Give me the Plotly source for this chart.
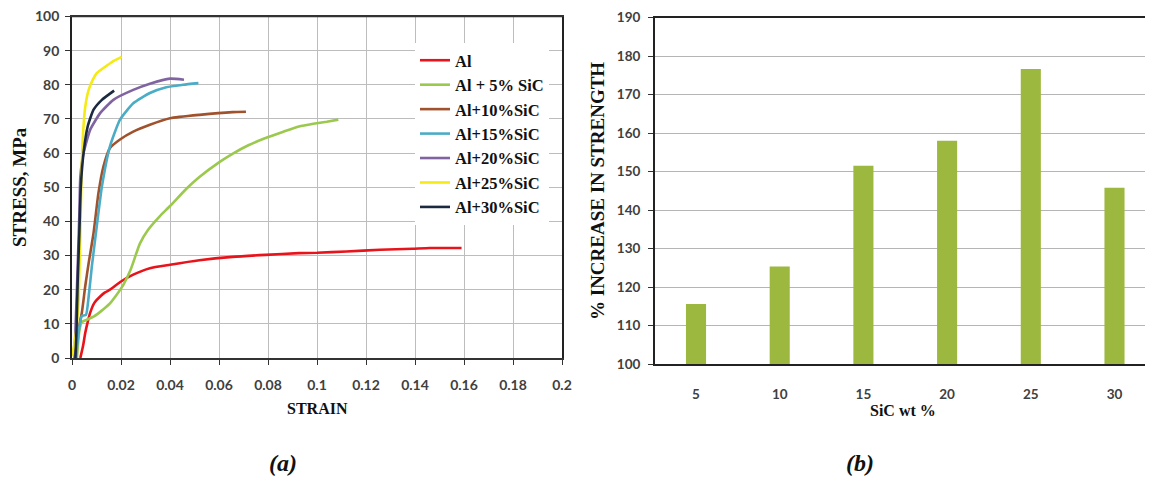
import plotly.graph_objects as go

# ---------------- data: panel (a) stress-strain curves ----------------
series_names = ["Al", "Al + 5% SiC", "Al+10%SiC", "Al+15%SiC", "Al+20%SiC", "Al+25%SiC", "Al+30%SiC"]
series_colors = ["#E8141C", "#9BC94E", "#A0522D", "#4BACC6", "#8064A2", "#F5EA14", "#1B2A41"]

strain_al = [0.0034, 0.0045, 0.0054, 0.0064, 0.0074, 0.009, 0.0115, 0.0135, 0.0155, 0.02, 0.025,
             0.0318, 0.04, 0.052, 0.0655, 0.079, 0.0926, 0.1, 0.112, 0.1257, 0.139, 0.146, 0.159]
stress_al = [0, 3.5, 7.3, 10.5, 13.2, 16, 18, 19.2, 20, 22.4, 24.4,
             26.3, 27.3, 28.6, 29.6, 30.2, 30.7, 30.8, 31.2, 31.7, 32.0, 32.2, 32.2]

strain_5 = [0.002, 0.003, 0.004, 0.006, 0.009, 0.012, 0.0155, 0.018, 0.021, 0.024, 0.0277, 0.031,
            0.0358, 0.04, 0.0466, 0.052, 0.06, 0.0655, 0.072, 0.079, 0.086, 0.0926, 0.0985, 0.104, 0.1087]
stress_5 = [0, 8, 10.5, 11.2, 12.2, 13.8, 16, 18.3, 21.5, 26, 33.5, 37.5,
            41.5, 44.5, 49.5, 53, 57.3, 59.8, 62.3, 64.4, 66.2, 67.8, 68.6, 69.2, 69.8]

strain_10 = [0.0015, 0.0025, 0.004, 0.0054, 0.0068, 0.0088, 0.0108, 0.0128, 0.0155, 0.0196,
             0.025, 0.0318, 0.04, 0.052, 0.0655, 0.071]
stress_10 = [0, 8, 13.2, 21, 27.8, 36.6, 48.3, 56, 61.5, 64,
             66.3, 68.3, 70.2, 71.2, 72, 72.1]

strain_15 = [0.0015, 0.003, 0.004, 0.0057, 0.0068, 0.0081, 0.0101, 0.0122, 0.0155, 0.0196,
             0.025, 0.0318, 0.0385, 0.0453, 0.0516]
stress_15 = [0, 9, 12.3, 12.6, 18, 26.8, 38.5, 50.2, 62, 69.8,
             74.6, 77.6, 79.3, 80, 80.5]

strain_20 = [0.001, 0.002, 0.003, 0.0034, 0.0047, 0.0074, 0.0115, 0.0169, 0.025, 0.0318, 0.04, 0.0457]
stress_20 = [0, 20, 42, 53, 60, 66.8, 71.7, 75.6, 78.5, 80.3, 81.8, 81.5]

strain_25 = [0.0, 0.0012, 0.002, 0.0027, 0.003, 0.0034, 0.0038, 0.0045, 0.0054, 0.0068,
             0.0085, 0.0101, 0.012, 0.0142, 0.017, 0.0203]
stress_25 = [0.5, 5, 10, 17, 25, 36, 51, 65.5, 73.5, 78.5,
             81.5, 83.4, 84.5, 85.6, 87, 88.2]

strain_30 = [0.0014, 0.0018, 0.0023, 0.003, 0.0036, 0.0047, 0.0064, 0.0088, 0.0122, 0.0172]
stress_30 = [0, 7.3, 22, 36.6, 50.2, 60, 67.8, 72.7, 75.6, 78.3]

strain_ticks = [0, 0.02, 0.04, 0.06, 0.08, 0.1, 0.12, 0.14, 0.16, 0.18, 0.2]
strain_tick_labels = ["0", "0.02", "0.04", "0.06", "0.08", "0.1", "0.12", "0.14", "0.16", "0.18", "0.2"]

# ---------------- data: panel (b) % increase in strength ----------------
sic_wt = [5, 10, 15, 20, 25, 30]
increase_pct = [115.6, 125.3, 151.5, 158.0, 176.6, 145.8]

strains = [strain_al, strain_5, strain_10, strain_15, strain_20, strain_25, strain_30]
stresses = [stress_al, stress_5, stress_10, stress_15, stress_20, stress_25, stress_30]

# page body has an 8px margin: the figure occupies page pixels 8..1153 x 8..482
OFF = 8
W, H = 1153 - OFF, 482 - OFF
SERIF = "Liberation Serif, Times New Roman, serif"
SANS = "Lato, Open Sans, sans-serif"
TICKCOL = "#404040"

fig = go.Figure()
for i, (name, col) in enumerate(zip(series_names, series_colors)):
    fig.add_trace(go.Scatter(
        x=strains[i], y=stresses[i], mode="lines", name=name,
        line=dict(color=col, width=2.6, shape="spline", smoothing=0.5),
        xaxis="x", yaxis="y"))

fig.add_trace(go.Bar(
    x=sic_wt, y=increase_pct, width=1.2, marker=dict(color="#9DB83F", line=dict(width=0)),
    showlegend=False, xaxis="x2", yaxis="y2"))

def px_x(p):
    return (p - OFF) / W

def px_y(p):
    return (H - (p - OFF)) / H

fig.update_layout(
    width=W, height=H, margin=dict(l=0, r=0, t=0, b=0, autoexpand=False),
    paper_bgcolor="white", plot_bgcolor="white",
    showlegend=True,
    legend=dict(x=px_x(415), y=px_y(43), xanchor="left", yanchor="top",
                bgcolor="white", borderwidth=0, traceorder="normal",
                font=dict(family=SERIF, size=16.5, color="#111111", weight="bold"),
                itemwidth=30),
    xaxis=dict(domain=[px_x(72), px_x(562)], range=[0, 0.2], anchor="y", automargin=False,
               tickvals=strain_ticks, ticktext=strain_tick_labels,
               showgrid=True, gridcolor="#BDBDBD", gridwidth=1,
               showline=True, linecolor="#333333", linewidth=1.6, mirror=True,
               ticks="outside", ticklen=5, tickcolor="#333333", ticklabelstandoff=8,
               tickfont=dict(family=SANS, size=14, color=TICKCOL, weight="bold"),
               ticklabeloverflow="allow", zeroline=False),
    yaxis=dict(domain=[px_y(358), px_y(16.5)], range=[0, 100], anchor="x", dtick=10, automargin=False,
               showgrid=True, gridcolor="#BDBDBD", gridwidth=1,
               showline=True, linecolor="#222222", linewidth=1.8, mirror=True,
               ticks="outside", ticklen=5, tickcolor="#333333", ticklabelstandoff=3,
               tickfont=dict(family=SANS, size=14, color=TICKCOL, weight="bold"),
               ticklabeloverflow="allow", zeroline=False),
    xaxis2=dict(domain=[px_x(655), 1.0], range=[2.55, 32.3], anchor="y2", automargin=False,
                tickvals=sic_wt, showgrid=False,
                showline=True, linecolor="#222222", linewidth=2, mirror=True,
                ticks="", ticklabelstandoff=17,
                tickfont=dict(family=SANS, size=13.5, color=TICKCOL, weight="bold"),
                ticklabeloverflow="allow", zeroline=False),
    yaxis2=dict(domain=[px_y(364), px_y(17.5)], range=[100, 190], anchor="x2", dtick=10, automargin=False,
                showgrid=True, gridcolor="#B5B5B5", gridwidth=1,
                showline=True, linecolor="#222222", linewidth=2, mirror=False,
                ticks="outside", ticklen=5, tickcolor="#333333", ticklabelstandoff=5,
                tickfont=dict(family=SANS, size=13.5, color=TICKCOL, weight="bold"),
                ticklabeloverflow="allow", zeroline=False),
)

# top border of panel (a), drawn over the plot area
fig.add_shape(type="line", xref="x domain", yref="y domain", x0=0, x1=1, y0=1, y1=1,
              line=dict(color="#333333", width=1.6), layer="above")

def ann(text, x, y, size, angle=0):
    fig.add_annotation(text=text, x=px_x(x), y=px_y(y), xref="paper", yref="paper",
                       showarrow=False, textangle=angle, xanchor="center", yanchor="middle",
                       font=dict(family=SERIF, size=size, color="#111111"))

ann("<b>STRESS, MPa</b>", 19, 187, 19, -90)
ann("<b>STRAIN</b>", 317, 408, 16)
ann("<b>% INCREASE IN STRENGTH</b>", 598, 191, 19, -90)
ann("<b>SiC wt %</b>", 903, 410, 16)
ann("<b><i>(a)</i></b>", 283, 463, 24)
ann("<b><i>(b)</i></b>", 860, 463, 24)

fig.write_html("out.html")
